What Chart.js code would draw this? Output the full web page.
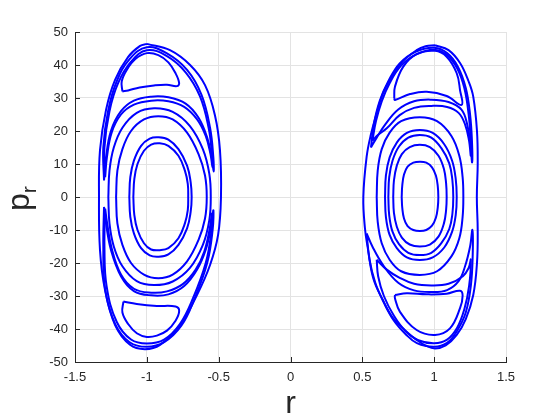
<!DOCTYPE html>
<html>
<head>
<meta charset="utf-8">
<script src="https://cdn.jsdelivr.net/npm/chart.js@4/dist/chart.umd.min.js"></script>
<style>
  body { margin: 0; background: #fff; }
  canvas { display: block; }
</style>
</head>
<body>
<canvas id="chartArea" width="560" height="420"></canvas>
<script>
// axis ticks
var xTicks = [-1.5, -1, -0.5, 0, 0.5, 1, 1.5];
var yTicks = [-50, -40, -30, -20, -10, 0, 10, 20, 30, 40, 50];

// left island (r, p_r) pairs
var leftOuter = [[-0.999,46.4],[-0.839,44.5],[-0.699,40],[-0.595,33.9],[-0.526,24.8],[-0.491,14.2],[-0.484,0],[-0.504,-11.5],[-0.56,-20.6],[-0.651,-29.7],[-0.769,-38.8],[-0.908,-44.8],[-1.013,-46.1],[-1.117,-44.8],[-1.221,-38.8],[-1.291,-28.2],[-1.326,-16.1],[-1.333,0],[-1.326,14.2],[-1.284,26.4],[-1.221,35.5],[-1.131,42.4],[-1.047,45.8],[-0.999,46.4]];
var leftLoopTop1 = [[-1.298,5],[-1.303,15],[-1.27,26],[-1.21,35],[-1.12,41.8],[-1.0,45.4],[-0.86,43.5],[-0.72,38.5],[-0.62,31],[-0.56,21],[-0.537,12],[-0.535,7.7],[-0.548,12],[-0.58,18],[-0.64,24],[-0.73,28.3],[-0.85,30.2],[-0.97,30.4],[-1.09,29.2],[-1.18,26],[-1.25,20],[-1.284,12],[-1.298,5]];
var leftLoopTop2 = [[-1.29,6],[-1.295,15],[-1.26,26],[-1.2,34.5],[-1.11,41],[-1.0,44.5],[-0.86,42.7],[-0.73,37.8],[-0.63,30.5],[-0.57,21],[-0.547,13],[-0.543,9],[-0.557,13],[-0.59,18.5],[-0.65,23.5],[-0.74,27.3],[-0.85,29],[-0.97,29.2],[-1.09,28],[-1.18,25],[-1.245,19.5],[-1.278,12],[-1.29,6]];
var leftLoopBot1 = [[-1.298,-3],[-1.303,-15],[-1.29,-28],[-1.22,-38.5],[-1.12,-44],[-1.0,-45.4],[-0.88,-44],[-0.76,-39],[-0.67,-31],[-0.58,-20],[-0.542,-10],[-0.537,-4],[-0.552,-9],[-0.59,-16],[-0.65,-22],[-0.74,-27],[-0.85,-29.5],[-0.97,-29.8],[-1.09,-28.5],[-1.18,-24],[-1.25,-16],[-1.284,-8],[-1.298,-3]];
var leftLoopBot2 = [[-1.29,-3.5],[-1.295,-15],[-1.28,-27],[-1.21,-37.8],[-1.11,-43.2],[-1.0,-44.4],[-0.88,-43.2],[-0.77,-38.5],[-0.68,-30.8],[-0.59,-20],[-0.552,-11],[-0.547,-5],[-0.562,-9.5],[-0.6,-16.5],[-0.66,-22],[-0.75,-26.4],[-0.86,-28.6],[-0.97,-29],[-1.09,-27.8],[-1.18,-23.5],[-1.245,-15.5],[-1.276,-8],[-1.29,-3.5]];
var leftIslandTop = [[-1.17,32],[-1.175,35],[-1.14,38.5],[-1.08,41.8],[-1.0,43.6],[-0.92,43],[-0.85,40.8],[-0.8,37.5],[-0.775,34.5],[-0.79,33.6],[-0.86,34],[-0.95,33.8],[-1.05,33.2],[-1.13,32.3],[-1.17,32]];
var leftIslandBot = [[-1.163,-31.7],[-1.07,-32.4],[-0.93,-33],[-0.8,-33.2],[-0.775,-34.5],[-0.8,-37.5],[-0.86,-40.5],[-0.93,-42],[-1.0,-42.4],[-1.07,-41.3],[-1.13,-38.5],[-1.17,-35],[-1.163,-31.7]];
var leftRing1 = [[-1.268,0],[-1.26,8],[-1.23,15],[-1.17,21],[-1.07,25.5],[-0.95,26.9],[-0.82,25.8],[-0.7,21.5],[-0.61,14.5],[-0.565,7],[-0.555,0],[-0.565,-7],[-0.61,-14.5],[-0.7,-21.5],[-0.82,-25.6],[-0.95,-26.7],[-1.07,-25.5],[-1.17,-21],[-1.23,-15],[-1.26,-8],[-1.268,0]];
var leftRing2 = [[-1.214,0],[-1.205,8],[-1.17,14.5],[-1.11,20],[-1.02,23.5],[-0.92,24.5],[-0.82,23.5],[-0.72,19.5],[-0.64,13],[-0.595,6.5],[-0.583,0],[-0.595,-6.5],[-0.64,-13],[-0.72,-19.5],[-0.82,-23.5],[-0.92,-24.6],[-1.02,-23.5],[-1.11,-20],[-1.17,-14.5],[-1.205,-8],[-1.214,0]];
var leftRing3 = [[-1.122,0],[-1.115,6],[-1.09,11],[-1.04,15.5],[-0.98,17.7],[-0.92,18.1],[-0.85,17.4],[-0.78,14.5],[-0.72,9.5],[-0.695,4.5],[-0.688,0],[-0.695,-4.5],[-0.72,-9.5],[-0.78,-14.5],[-0.85,-17.4],[-0.92,-18.1],[-0.98,-17.7],[-1.04,-15.5],[-1.09,-11],[-1.115,-6],[-1.122,0]];
var leftRing4 = [[-1.094,0],[-1.087,5.5],[-1.065,10],[-1.02,14],[-0.97,15.9],[-0.91,16.3],[-0.85,15.5],[-0.78,12.5],[-0.735,8],[-0.715,4],[-0.712,0],[-0.715,-4],[-0.735,-8],[-0.78,-12.5],[-0.85,-15.5],[-0.91,-16.1],[-0.97,-15.9],[-1.02,-14],[-1.065,-10],[-1.087,-5.5],[-1.094,0]];

// right island
var rightOuter = [[1.006,46],[1.1,44.5],[1.18,40.6],[1.24,35],[1.272,30.4],[1.298,20],[1.303,10],[1.297,0],[1.303,-10],[1.298,-20],[1.272,-29.7],[1.22,-37],[1.157,-41.8],[1.08,-45],[1.006,-45.9],[0.94,-45],[0.878,-43.3],[0.8,-40.5],[0.715,-36.8],[0.64,-31],[0.576,-24.6],[0.54,-16],[0.518,-9.4],[0.507,0],[0.53,12.2],[0.56,19],[0.6,25.4],[0.64,31],[0.692,35.5],[0.78,41],[0.878,44.5],[0.94,45.7],[1.006,46]];
var rightLoopTop1 = [[0.56,15],[0.58,22],[0.62,29],[0.68,35],[0.76,40.5],[0.87,44],[1.0,45.2],[1.09,43.6],[1.165,39.5],[1.22,33],[1.25,25],[1.263,17],[1.264,10.5],[1.252,16],[1.23,22],[1.19,26.5],[1.1,28.8],[0.98,29.5],[0.86,29],[0.75,26.5],[0.66,22],[0.6,18],[0.56,15]];
var rightLoopTop2 = [[0.57,17],[0.595,23],[0.635,29],[0.69,34.5],[0.77,39.8],[0.875,43.2],[1.0,44.6],[1.09,43],[1.16,39],[1.21,33],[1.24,25],[1.253,18],[1.255,12.5],[1.243,17],[1.215,22],[1.17,25.5],[1.09,27.3],[0.98,27.6],[0.86,27],[0.76,24.8],[0.67,20.8],[0.6,18.5],[0.57,17]];
var rightLoopBot1 = [[0.53,-11],[0.55,-19],[0.59,-26],[0.65,-32],[0.72,-37.5],[0.8,-41.5],[0.88,-44.3],[1.0,-45.4],[1.09,-44.2],[1.16,-40.5],[1.22,-35],[1.255,-27],[1.268,-18],[1.266,-10],[1.25,-15],[1.215,-21],[1.17,-25.5],[1.09,-28.2],[0.98,-28.8],[0.86,-28.3],[0.75,-26],[0.65,-21],[0.57,-15],[0.53,-11]];
var rightLoopBot2 = [[0.6,-19],[0.61,-24],[0.65,-30],[0.72,-36],[0.8,-40.6],[0.89,-43.4],[1.0,-44.3],[1.09,-43.2],[1.16,-39.6],[1.21,-34],[1.243,-27],[1.255,-19],[1.24,-21.5],[1.2,-24],[1.1,-26.3],[0.98,-26.8],[0.86,-26.3],[0.76,-24.5],[0.67,-22],[0.6,-19]];
var rightIslandTop = [[0.722,29.9],[0.727,33.4],[0.785,39.5],[0.878,43.3],[1.006,44.3],[1.087,42.5],[1.157,37.5],[1.18,32.4],[1.191,27.9],[1.087,30.6],[0.948,31.9],[0.832,31.2],[0.727,29.4],[0.722,29.9]];
var rightIslandBot = [[0.727,-29.7],[0.809,-29.2],[0.948,-29.5],[1.087,-29.3],[1.18,-28.4],[1.198,-29.9],[1.18,-33.7],[1.11,-39.8],[1.006,-41.8],[0.878,-40.3],[0.762,-34.8],[0.727,-30.7],[0.727,-29.7]];
var rightRing1 = [[0.6,0],[0.607,8],[0.635,14.5],[0.69,19.5],[0.77,23],[0.9,24.2],[1.02,23],[1.12,18.5],[1.175,12.5],[1.198,6],[1.203,0],[1.198,-6],[1.175,-12.5],[1.12,-18],[1.02,-22.5],[0.9,-23.6],[0.77,-22.5],[0.69,-19],[0.635,-14],[0.607,-7.5],[0.6,0]];
var rightRing2 = [[0.658,0],[0.664,6.5],[0.69,12],[0.74,16.5],[0.81,19.4],[0.9,20.3],[0.99,19.4],[1.07,16],[1.125,11],[1.15,5.5],[1.157,0],[1.15,-5.5],[1.125,-10.5],[1.07,-15.3],[0.99,-18.3],[0.9,-19.1],[0.81,-18.3],[0.74,-15.5],[0.69,-11.5],[0.664,-6],[0.658,0]];
var rightRing3 = [[0.681,0],[0.687,6],[0.71,11],[0.755,15.3],[0.82,18],[0.9,18.8],[0.98,18],[1.05,14.8],[1.105,10.2],[1.127,5],[1.133,0],[1.127,-5],[1.105,-9.7],[1.05,-14],[0.98,-16.9],[0.9,-17.6],[0.82,-16.9],[0.755,-14.3],[0.71,-10.5],[0.687,-5.5],[0.681,0]];
var rightRing4 = [[0.715,0],[0.72,5],[0.74,9.5],[0.775,13],[0.83,15.1],[0.9,15.8],[0.97,15.1],[1.03,12.5],[1.068,8.5],[1.083,4.2],[1.087,0],[1.083,-4],[1.068,-8],[1.03,-12],[0.97,-14.4],[0.9,-15],[0.83,-14.4],[0.775,-12.3],[0.74,-9],[0.72,-4.8],[0.715,0]];
var rightRing5 = [[0.774,0],[0.778,3.5],[0.79,6.8],[0.815,9.2],[0.855,10.4],[0.9,10.7],[0.945,10.4],[0.985,9],[1.012,6.5],[1.025,3.3],[1.029,0],[1.025,-3.2],[1.012,-6.3],[0.985,-8.7],[0.945,-10],[0.9,-10.3],[0.855,-10],[0.815,-8.8],[0.79,-6.5],[0.778,-3.3],[0.774,0]];

var curves = [leftOuter, leftLoopTop1, leftLoopTop2, leftLoopBot1, leftLoopBot2, leftIslandTop, leftIslandBot,
              leftRing1, leftRing2, leftRing3, leftRing4,
              rightOuter, rightLoopTop1, rightLoopTop2, rightLoopBot1, rightLoopBot2, rightIslandTop, rightIslandBot,
              rightRing1, rightRing2, rightRing3, rightRing4, rightRing5];

var axisColor = '#262626';

// MATLAB style inward ticks and the axis titles
var decorations = {
    id: 'decorations',
    afterDraw: function(chart) {
        var ctx = chart.ctx;
        var area = chart.chartArea;
        var xs = chart.scales.x, ys = chart.scales.y;
        ctx.save();
        ctx.strokeStyle = axisColor;
        ctx.lineWidth = 1;
        ctx.beginPath();
        xTicks.forEach(function(v) {
            var px = Math.round(xs.getPixelForValue(v)) + 0.5;
            ctx.moveTo(px, area.bottom);
            ctx.lineTo(px, area.bottom - 5);
        });
        yTicks.forEach(function(v) {
            var py = Math.round(ys.getPixelForValue(v)) + 0.5;
            ctx.moveTo(area.left, py);
            ctx.lineTo(area.left + 5, py);
        });
        ctx.stroke();

        ctx.fillStyle = axisColor;
        ctx.font = '32px "Liberation Sans", Arial, sans-serif';
        ctx.textAlign = 'center';
        ctx.textBaseline = 'alphabetic';
        ctx.fillText('r', (area.left + area.right) / 2, 413);

        ctx.translate(29, 211);
        ctx.rotate(-Math.PI / 2);
        ctx.textAlign = 'left';
        ctx.fillText('p', 0, 0);
        var pw = ctx.measureText('p').width;
        ctx.font = '21px "Liberation Sans", Arial, sans-serif';
        ctx.fillText('r', pw, 7);
        ctx.restore();
    }
};

var ctx = document.getElementById('chartArea').getContext('2d');
var myChart = new Chart(ctx, {
    type: 'scatter',
    data: {
        datasets: curves.map(function(c) {
            return {
                data: c.map(function(pt) { return { x: pt[0], y: pt[1] }; }),
                showLine: true,
                borderColor: '#0000ff',
                borderWidth: 2,
                pointRadius: 0,
                tension: 0.4,
                fill: false
            };
        })
    },
    options: {
        responsive: false,
        animation: false,
        events: [],
        layout: { padding: { top: 32, right: 54, left: 0, bottom: 0 } },
        plugins: { legend: { display: false }, tooltip: { enabled: false } },
        scales: {
            x: {
                type: 'linear',
                min: -1.5,
                max: 1.5,
                afterFit: function(scale) { scale.height = 58; },
                afterBuildTicks: function(scale) { scale.ticks = xTicks.map(function(v) { return { value: v }; }); },
                ticks: {
                    color: axisColor,
                    font: { family: '"Liberation Sans", Arial, sans-serif', size: 13 },
                    padding: 8,
                    maxRotation: 0,
                    callback: function(v) { return String(v); }
                },
                grid: { color: '#e3e3e3', drawTicks: false },
                border: { color: axisColor, width: 1 }
            },
            y: {
                type: 'linear',
                min: -50,
                max: 50,
                afterFit: function(scale) { scale.width = 75; },
                afterBuildTicks: function(scale) { scale.ticks = yTicks.map(function(v) { return { value: v }; }); },
                ticks: {
                    color: axisColor,
                    font: { family: '"Liberation Sans", Arial, sans-serif', size: 13 },
                    padding: 7,
                    callback: function(v) { return String(v); }
                },
                grid: { color: '#e3e3e3', drawTicks: false },
                border: { color: axisColor, width: 1 }
            }
        }
    },
    plugins: [decorations]
});
</script>
</body>
</html>
